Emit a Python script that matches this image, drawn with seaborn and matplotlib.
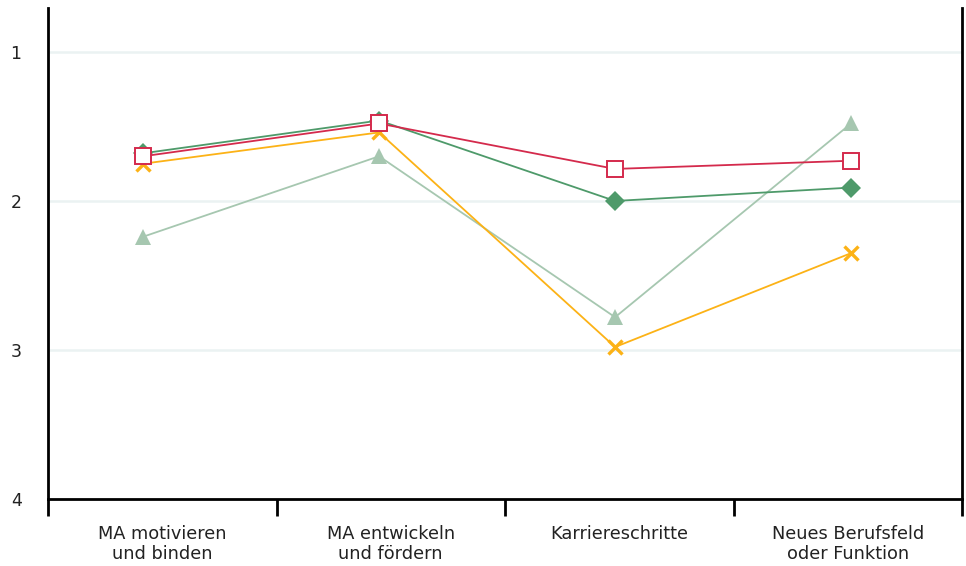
import numpy as np
import pandas as pd
import matplotlib
matplotlib.use('Agg')
import matplotlib.pyplot as plt
import seaborn as sns

# Data (scale 1 = best, 4 = worst, axis inverted)
categories = ['MA motivieren\nund binden', 'MA entwickeln\nund fördern',
              'Karriereschritte', 'Neues Berufsfeld\noder Funktion']
light_green_vals = [2.24, 1.70, 2.78, 1.48]
orange_vals = [1.75, 1.54, 2.98, 2.35]
green_vals = [1.68, 1.46, 2.00, 1.91]
red_vals = [1.70, 1.48, 1.785, 1.73]

y_ticks = [1, 2, 3, 4]

sns.set_style('white')
plt.rcParams['font.family'] = ['DejaVu Sans']

fig = plt.figure(figsize=(9.66, 5.66), dpi=100)
ax = fig.add_axes([48 / 966, 67 / 566, 914 / 966, 491 / 566])

x = np.arange(len(categories))

sns.lineplot(x=x, y=light_green_vals, ax=ax, color='#a6c7b0', lw=1.3,
             marker='^', markersize=12, markeredgewidth=0,
             markeredgecolor='#a6c7b0', zorder=3)
sns.lineplot(x=x, y=orange_vals, ax=ax, color='#fcb216', lw=1.3,
             marker='x', markersize=10, markeredgewidth=2.4,
             markeredgecolor='#fcb216', zorder=4)
sns.lineplot(x=x, y=green_vals, ax=ax, color='#4e9a6a', lw=1.3,
             marker='D', markersize=10, markeredgewidth=0,
             markeredgecolor='#4e9a6a', zorder=5)
sns.lineplot(x=x, y=red_vals, ax=ax, color='#d42a4c', lw=1.3,
             marker='s', markersize=11, markerfacecolor='white',
             markeredgecolor='#d42a4c', markeredgewidth=1.4, zorder=6)

# axis limits so points sit where the reference has them
xlim = (-0.403, 3.47)
ax.set_xlim(*xlim)
ax.set_ylim(4, 0.705)

# ticks at band boundaries, labels at band centers
edges = np.linspace(xlim[0], xlim[1], len(categories) + 1)
centers = (edges[:-1] + edges[1:]) / 2
ax.set_xticks(edges)
ax.set_xticklabels([''] * len(edges))
ax.set_xticks(centers, minor=True)
ax.set_xticklabels(categories, minor=True, fontsize=12.8, color='#222222',
                   linespacing=1.15)
ax.tick_params(axis='x', which='major', bottom=True, length=12, width=2,
               color='black', direction='out')
ax.tick_params(axis='x', which='minor', bottom=True, length=0, pad=19)

ax.set_yticks(y_ticks)
ax.set_yticklabels([str(t) for t in y_ticks], fontsize=12.5, color='#222222')
ax.tick_params(axis='y', length=0, pad=19)

for t in y_ticks[:-1]:
    ax.axhline(t, color='#ebf2f2', lw=1.8, zorder=1)

for side in ['left', 'right', 'bottom']:
    ax.spines[side].set_visible(True)
    ax.spines[side].set_color('black')
    ax.spines[side].set_linewidth(2)
ax.spines['top'].set_visible(False)

ax.set_xlabel('')
ax.set_ylabel('')
if ax.get_legend():
    ax.get_legend().remove()

fig.savefig('out.png', dpi=100)
